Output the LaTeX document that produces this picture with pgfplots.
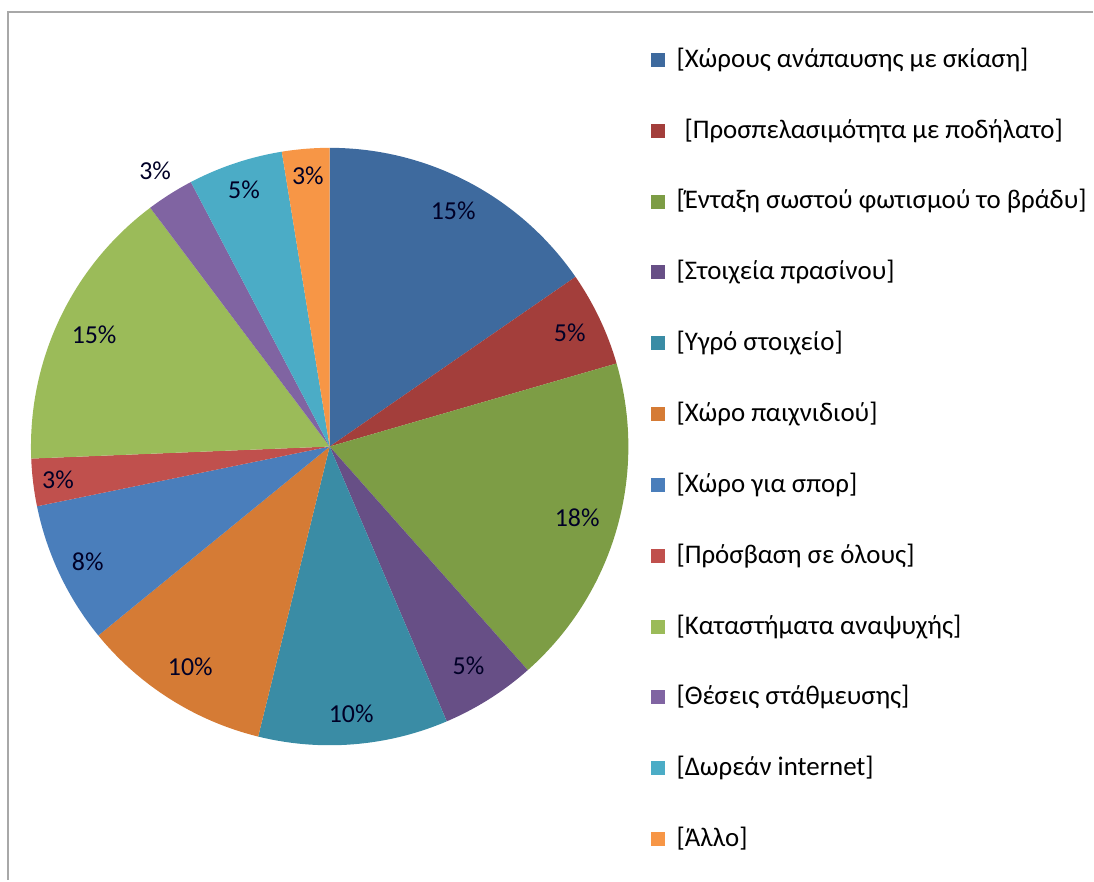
\documentclass[border=0pt]{standalone}
\usepackage{pgfplots}
\pgfplotsset{compat=1.18}
\usepackage{pgfplotstable}
\usetikzlibrary{calc}
\usepackage{fontspec}
\setmainfont{Carlito}

\definecolor{c0}{HTML}{3E6A9E}
\definecolor{c1}{HTML}{A33E3B}
\definecolor{c2}{HTML}{7D9D45}
\definecolor{c3}{HTML}{674F86}
\definecolor{c4}{HTML}{3A8CA5}
\definecolor{c5}{HTML}{D57B35}
\definecolor{c6}{HTML}{4A7EBB}
\definecolor{c7}{HTML}{C0504D}
\definecolor{c8}{HTML}{9BBB59}
\definecolor{c9}{HTML}{8064A2}
\definecolor{c10}{HTML}{4BACC6}
\definecolor{c11}{HTML}{F79646}
\definecolor{framegray}{HTML}{A8A8A8}

% n = responses, r = label distance from centre, off = legend text shift
\pgfplotstableread[col sep=comma]{
label,n,r,off
{[Χώρους ανάπαυσης με σκίαση]},6,266,0
{[Προσπελασιμότητα με ποδήλατο]},2,266,8
{[Ένταξη σωστού φωτισμού το βράδυ]},7,258,0
{[Στοιχεία πρασίνου]},2,260,0
{[Υγρό στοιχείο]},4,268,0
{[Χώρο παιχνιδιού]},4,261,0
{[Χώρο για σπορ]},3,268,0
{[Πρόσβαση σε όλους]},1,274,0
{[Καταστήματα αναψυχής]},6,261,0
{[Θέσεις στάθμευσης]},1,327,0
{[Δωρεάν internet]},2,271,0
{[Άλλο]},1,272,0
}\datatable

\begin{document}
\begin{tikzpicture}
\begin{axis}[
  x=1bp, y=1bp,
  xmin=0, xmax=1094, ymin=0, ymax=881,
  hide axis, clip=false,
]
\path (rel axis cs:0,0) rectangle (rel axis cs:1,1);
% frame
\draw[framegray, line width=2.2bp] (axis cs:8,0) -- (axis cs:8,869) -- (axis cs:1094,869);
\gdef\cum{0}
\pgfplotsforeachungrouped \i in {0,...,11}{%
  \pgfplotstablegetelem{\i}{n}\of\datatable \let\n\pgfplotsretval
  \pgfplotstablegetelem{\i}{r}\of\datatable \let\rr\pgfplotsretval
  \pgfplotstablegetelem{\i}{off}\of\datatable \let\off\pgfplotsretval
  \pgfplotstablegetelem{\i}{label}\of\datatable \let\lbl\pgfplotsretval
  \pgfmathsetmacro\a{90-360*\cum/39}%
  \pgfmathsetmacro\cumnew{\cum+\n}%
  \pgfmathsetmacro\b{90-360*\cumnew/39}%
  \pgfmathsetmacro\m{(\a+\b)/2}%
  \pgfmathtruncatemacro\p{round(100*\n/39)}%
  \pgfmathsetmacro\ly{881-(60+70.9*\i)}%
  \pgfmathsetmacro\lx{677+\off}%
  \edef\cmd{%
    \noexpand\fill[c\i] (axis cs:330,434) -- ++(\a:299bp) arc[start angle=\a, end angle=\b, radius=299bp] -- cycle;
    \noexpand\node[font=\noexpand\fontsize{26}{30}\noexpand\selectfont, text=black!85!blue] at ($(axis cs:330,434)+(\m:\rr bp)$) {\p\noexpand\%};
    \noexpand\node[fill=c\i, minimum size=14bp, inner sep=0pt] at (axis cs:659,\ly) {};
    \noexpand\node[anchor=west, inner sep=0pt, font=\noexpand\fontsize{27}{31}\noexpand\selectfont] at (axis cs:\lx,\ly) {\unexpanded\expandafter{\lbl}};
  }%
  \cmd
  \global\let\cum\cumnew
}
\end{axis}
\end{tikzpicture}
\end{document}
